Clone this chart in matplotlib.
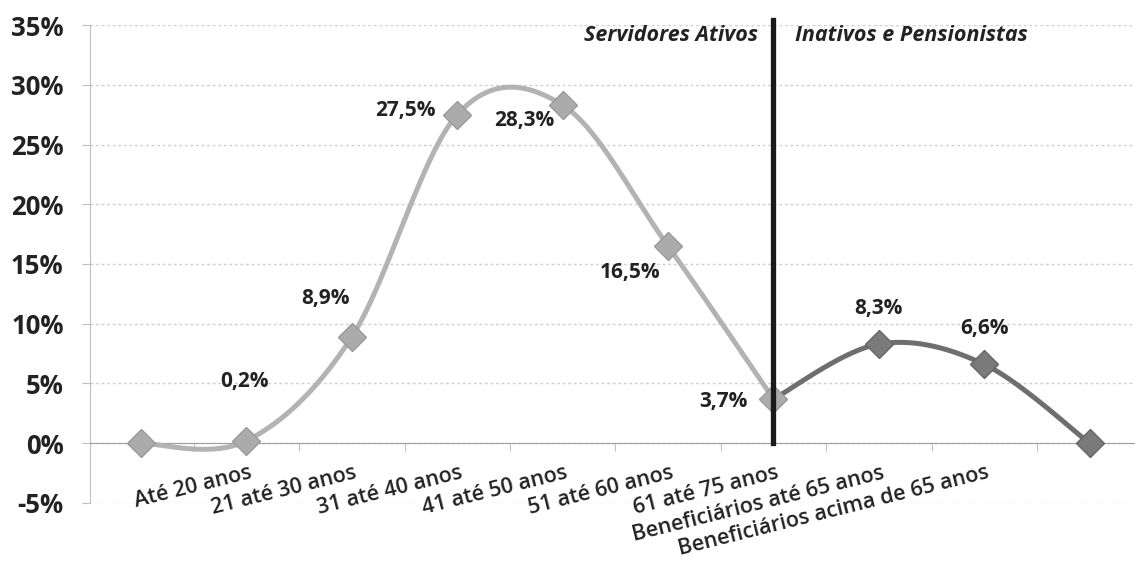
import numpy as np
import matplotlib
matplotlib.use('Agg')
import matplotlib.pyplot as plt

plt.rcParams['font.family'] = ['Open Sans', 'DejaVu Sans']

# categories (first and last points are empty padding, value 0, no label)
labels = ['', 'Até 20 anos', '21 até 30 anos', '31 até 40 anos', '41 até 50 anos',
          '51 até 60 anos', '61 até 75 anos', 'Beneficiários até 65 anos',
          'Beneficiários acima de 65 anos', '']
ativos = [0.0, 0.2, 8.9, 27.5, 28.3, 16.5, 3.7]
inativos = [3.7, 8.3, 6.6, 0.0]
ativos_x = list(range(0, 7))
inativos_x = list(range(6, 10))
val_labels = ['', '0,2%', '8,9%', '27,5%', '28,3%', '16,5%', '3,7%', '8,3%', '6,6%', '']
# label offsets in pixels (dx, dy)
lab_off = [(0, 0), (-2, 59), (-26, 38), (-52, 4), (-38, -15), (-38, -26),
           (-50, -2), (0, 36), (0, 36), (0, 0)]


def smooth(xs, ys, n=40):
    # catmull-rom like curve through the points (Excel "smoothed line")
    p = np.column_stack([xs, ys]).astype(float)
    p = np.vstack([p[0], p, p[-1]])
    out = []
    t = np.linspace(0, 1, n)
    for i in range(1, len(p) - 2):
        p0, p1, p2, p3 = p[i - 1], p[i], p[i + 1], p[i + 2]
        c1 = p1 + (p2 - p0) / 6
        c2 = p2 - (p3 - p1) / 6
        seg = ((1 - t) ** 3)[:, None] * p1 + (3 * (1 - t) ** 2 * t)[:, None] * c1 \
            + (3 * (1 - t) * t ** 2)[:, None] * c2 + (t ** 3)[:, None] * p2
        out.append(seg)
    out = np.vstack(out)
    return out[:, 0], out[:, 1]


fig = plt.figure(figsize=(11.35, 5.62), dpi=100)
ax = fig.add_axes([0.0793, 0.105, 0.9207, 0.8505])

ax.set_xlim(-0.484, 9.43)
ax.set_ylim(-5, 35)

# grid
ax.set_yticks(np.arange(-5, 36, 5))
ax.set_yticklabels(['%d%%' % v for v in range(-5, 36, 5)], fontsize=18.5, fontweight='bold')
ax.yaxis.grid(True, color='#d0d0d0', linestyle=(0, (2, 2)), linewidth=1)
ax.tick_params(axis='y', length=6, color='#bfbfbf', pad=13, labelcolor='#222222')

ax.spines['top'].set_visible(False)
ax.spines['right'].set_visible(False)
ax.spines['left'].set_color('#bfbfbf')
ax.spines['bottom'].set_position(('data', 0))
ax.spines['bottom'].set_color('#a0a0a0')
ax.spines['bottom'].set_linestyle((0, (1, 1)))
ax.set_xticks(np.arange(0.5, 9.5, 1))
ax.set_xticklabels([])
ax.tick_params(axis='x', length=6, color='#bfbfbf', direction='out')

sx, sy = smooth(ativos_x, ativos)
ax.plot(sx, sy, color='#b3b3b3', linewidth=3.6, zorder=3, solid_capstyle='round')
ax.plot(ativos_x, ativos, linestyle='none', marker='D', markersize=14,
        markerfacecolor='#ababab', markeredgecolor='#9a9a9a', zorder=4)

sx, sy = smooth(inativos_x, inativos)
ax.plot(sx, sy, color='#6e6e6e', linewidth=3.6, zorder=3, solid_capstyle='round')
ax.plot(inativos_x[1:], inativos[1:], linestyle='none', marker='D', markersize=14,
        markerfacecolor='#7a7a7a', markeredgecolor='#666666', zorder=4)

# divider
ax.plot([6, 6], [0, 35.4], color='#1a1a1a', linewidth=3.8, zorder=5, clip_on=False)
ax.text(5.85, 34.1, 'Servidores Ativos', ha='right', va='center', fontsize=15.5,
        fontweight='bold', style='italic', color='#222222')
ax.text(6.2, 34.1, 'Inativos e Pensionistas', ha='left', va='center', fontsize=15.5,
        fontweight='bold', style='italic', color='#222222')

allv = ativos + inativos[1:]
for i, (lab, (dx, dy)) in enumerate(zip(val_labels, lab_off)):
    if lab:
        ax.annotate(lab, (i, allv[i]), xytext=(dx, dy), textcoords='offset pixels',
                    ha='center', va='center', fontsize=15, fontweight='bold',
                    color='#222222', zorder=6)

for i, lab in enumerate(labels):
    if lab:
        ax.text(i + 0.02, -1.6, lab, rotation=14, rotation_mode='anchor',
                ha='right', va='top', fontsize=15.5, fontweight='semibold', color='#222222')

fig.savefig('out.png', dpi=100)
